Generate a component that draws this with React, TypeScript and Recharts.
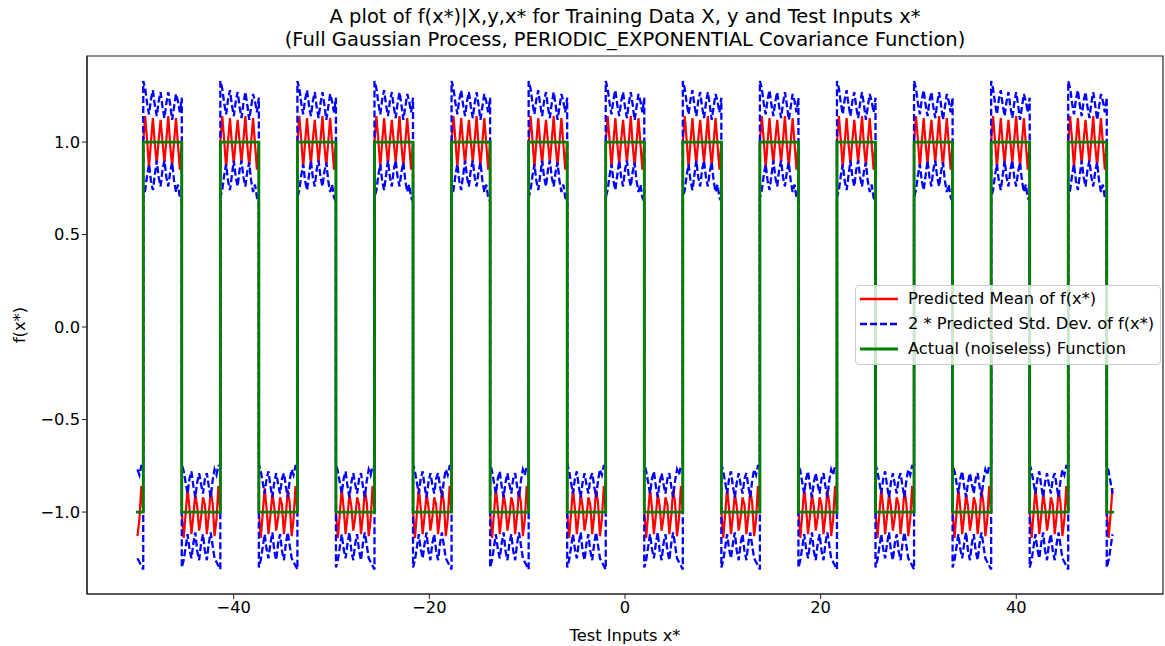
import { LineChart, Line, XAxis, YAxis, Legend, Label, ReferenceArea } from "recharts";

// axis ticks
const X_TICKS = [-40, -20, 0, 20, 40];
const Y_TICKS = [-1, -0.5, 0, 0.5, 1];

// start/end of each "high" part of the square wave
const HIGH_EDGES: [number, number][] = [
  [-49.25, -45.31],
  [-41.37, -37.43],
  [-33.49, -29.55],
  [-25.61, -21.67],
  [-17.73, -13.79],
  [-9.85, -5.91],
  [-1.97, 1.97],
  [5.91, 9.85],
  [13.79, 17.73],
  [21.67, 25.61],
  [29.55, 33.49],
  [37.43, 41.37],
  [45.31, 49.25],
];

// values across one plateau (21 samples from its left edge to its right edge)
const HIGH_MEAN = [1.0, 1.14, 1.01, 0.86, 1.0, 1.13, 0.99, 0.88, 1.01, 1.12, 1.0, 0.89, 1.01, 1.14, 0.98, 0.87, 1.0, 1.13, 0.99, 0.85, 1.0];
const HIGH_UPPER = [1.33, 1.29, 1.21, 1.15, 1.23, 1.28, 1.2, 1.14, 1.22, 1.27, 1.19, 1.13, 1.21, 1.27, 1.2, 1.12, 1.19, 1.26, 1.22, 1.16, 1.24];
const HIGH_LOWER = [0.7, 0.74, 0.82, 0.88, 0.79, 0.74, 0.82, 0.9, 0.81, 0.76, 0.85, 0.9, 0.81, 0.76, 0.84, 0.89, 0.79, 0.73, 0.77, 0.7, 0.68];
const LOW_MEAN = [-1.0, -1.14, -1.01, -0.87, -0.98, -1.12, -1.02, -0.9, -0.97, -1.1, -1.03, -0.92, -0.96, -1.12, -1.02, -0.88, -0.95, -1.13, -1.04, -0.86, -1.0];
const LOW_UPPER = [-0.74, -0.78, -0.84, -0.9, -0.82, -0.78, -0.86, -0.92, -0.84, -0.79, -0.85, -0.9, -0.82, -0.79, -0.86, -0.92, -0.83, -0.77, -0.8, -0.75, -0.75];
const LOW_LOWER = [-1.3, -1.26, -1.19, -1.12, -1.2, -1.25, -1.17, -1.11, -1.21, -1.26, -1.17, -1.12, -1.21, -1.26, -1.17, -1.11, -1.18, -1.25, -1.27, -1.29, -1.31];

const X_MIN = -50;
const X_MAX = 50;

type Row = { x: number; mean: number; upper: number; lower: number };

function buildPrediction(): Row[] {
  const plateaus: { from: number; to: number; high: boolean }[] = [];
  const first = HIGH_EDGES[0];
  const last = HIGH_EDGES[HIGH_EDGES.length - 1];
  plateaus.push({ from: first[0] - (first[1] - first[0]), to: first[0], high: false });
  HIGH_EDGES.forEach(([a, b], i) => {
    plateaus.push({ from: a, to: b, high: true });
    const next = HIGH_EDGES[i + 1];
    if (next) plateaus.push({ from: b, to: next[0], high: false });
  });
  plateaus.push({ from: last[1], to: last[1] + (last[1] - last[0]), high: false });

  const rows: Row[] = [];
  for (const p of plateaus) {
    const mean = p.high ? HIGH_MEAN : LOW_MEAN;
    const upper = p.high ? HIGH_UPPER : LOW_UPPER;
    const lower = p.high ? HIGH_LOWER : LOW_LOWER;
    const n = mean.length - 1;
    for (let j = 0; j <= n; j++) {
      const x = p.from + ((p.to - p.from) * j) / n;
      if (x < X_MIN || x > X_MAX) continue;
      rows.push({ x, mean: mean[j], upper: upper[j], lower: lower[j] });
    }
  }
  return rows;
}

function buildActual() {
  const rows = [{ x: X_MIN, y: -1 }];
  for (const [a, b] of HIGH_EDGES) {
    rows.push({ x: a, y: -1 }, { x: a, y: 1 }, { x: b, y: 1 }, { x: b, y: -1 });
  }
  rows.push({ x: X_MAX, y: -1 });
  return rows;
}

const prediction = buildPrediction();
const actual = buildActual();

const FONT = "'DejaVu Sans', sans-serif";
const AXIS = "#222";
const TXT = 16.3;
const X_DOMAIN: [number, number] = [-55, 55];
const Y_DOMAIN: [number, number] = [-1.443, 1.465];
const minus = (s: string) => s.replace("-", "\u2212");

const legendRows = [
  { label: "Predicted Mean of f(x*)", color: "#ff0000", dash: undefined, w: 2.3 },
  { label: "2 * Predicted Std. Dev. of f(x*)", color: "#0000ff", dash: "7 3", w: 2.3 },
  { label: "Actual (noiseless) Function", color: "#008000", dash: undefined, w: 3 },
];

function LegendBox() {
  return (
    <div
      style={{
        boxSizing: "border-box",
        width: 306,
        height: 80,
        border: "1px solid #cccccc",
        borderRadius: 4,
        background: "rgba(255,255,255,0.8)",
        fontFamily: FONT,
        fontSize: TXT,
        color: "#000",
      }}
    >
      {legendRows.map((r) => (
        <div key={r.label} style={{ height: 25, display: "flex", alignItems: "center" }}>
          <svg width={52} height={12} style={{ flex: "none" }}>
            <line x1={4} x2={42} y1={6} y2={6} stroke={r.color} strokeWidth={r.w} strokeDasharray={r.dash} />
          </svg>
          <span style={{ whiteSpace: "nowrap" }}>{r.label}</span>
        </div>
      ))}
    </div>
  );
}

export default function App() {
  return (
    <div style={{ position: "relative", width: 1165, height: 646, background: "#fff", fontFamily: FONT }}>
      <style>{`body{margin:0}`}</style>
      <div
        style={{
          position: "absolute",
          left: 87,
          top: 5,
          width: 1076,
          textAlign: "center",
          fontSize: 19.5,
          lineHeight: "23px",
          color: "#000",
          zIndex: 2,
        }}
      >
        <div>A plot of f(x*)|X,y,x* for Training Data X, y and Test Inputs x*</div>
        <div>(Full Gaussian Process, PERIODIC_EXPONENTIAL Covariance Function)</div>
      </div>
      <LineChart width={1165} height={646} data={prediction} margin={{ top: 56, right: 2, bottom: 0, left: 0 }}>
        <XAxis
          type="number"
          dataKey="x"
          domain={X_DOMAIN}
          ticks={X_TICKS}
          allowDataOverflow
          height={52}
          tickSize={5}
          tickFormatter={(v) => minus(String(v))}
          tick={{ fill: "#000", fontSize: TXT, fontFamily: FONT }}
          axisLine={{ stroke: AXIS, strokeWidth: 1.2 }}
          tickLine={{ stroke: AXIS }}
        >
          <Label value="Test Inputs x*" position="insideBottom" offset={5} fill="#000" fontSize={TXT} fontFamily={FONT} />
        </XAxis>
        <YAxis
          type="number"
          domain={Y_DOMAIN}
          ticks={Y_TICKS}
          allowDataOverflow
          width={87}
          tickSize={5}
          tickFormatter={(v) => minus(Number(v).toFixed(1))}
          tick={{ fill: "#000", fontSize: TXT, fontFamily: FONT }}
          axisLine={{ stroke: AXIS, strokeWidth: 1.2 }}
          tickLine={{ stroke: AXIS }}
        >
          <Label
            content={({ viewBox }: any) => {
              const cx = (viewBox?.x ?? 0) + 19;
              const cy = (viewBox?.y ?? 0) + (viewBox?.height ?? 0) / 2;
              return (
                <text
                  x={cx}
                  y={cy}
                  transform={`rotate(-90 ${cx} ${cy})`}
                  textAnchor="middle"
                  dominantBaseline="central"
                  fontSize={TXT}
                  fontFamily={FONT}
                  fill="#000"
                >
                  f(x*)
                </text>
              );
            }}
          />
        </YAxis>
        {/* frame: top and right spines */}
        <ReferenceArea
          x1={X_DOMAIN[0]}
          x2={X_DOMAIN[1]}
          y1={Y_DOMAIN[0]}
          y2={Y_DOMAIN[1]}
          fill="none"
          fillOpacity={0}
          stroke={AXIS}
          strokeWidth={1.2}
          ifOverflow="visible"
        />
        <Legend
          layout="vertical"
          align="center"
          verticalAlign="middle"
          wrapperStyle={{ position: "absolute", left: 855, top: 285, width: 306, height: 80 }}
          content={() => <LegendBox />}
        />
        <Line
          type="linear"
          dataKey="mean"
          name="Predicted Mean of f(x*)"
          stroke="#ff0000"
          strokeWidth={2.2}
          dot={false}
          activeDot={false}
          isAnimationActive={false}
        />
        <Line
          type="linear"
          dataKey="upper"
          name="2 * Predicted Std. Dev. of f(x*)"
          stroke="#0000ff"
          strokeWidth={2.3}
          strokeDasharray="7 3"
          dot={false}
          activeDot={false}
          isAnimationActive={false}
        />
        <Line
          type="linear"
          dataKey="lower"
          legendType="none"
          stroke="#0000ff"
          strokeWidth={2.3}
          strokeDasharray="7 3"
          dot={false}
          activeDot={false}
          isAnimationActive={false}
        />
        <Line
          type="linear"
          data={actual}
          dataKey="y"
          name="Actual (noiseless) Function"
          stroke="#008000"
          strokeWidth={2.8}
          dot={false}
          activeDot={false}
          isAnimationActive={false}
        />
      </LineChart>
    </div>
  );
}
